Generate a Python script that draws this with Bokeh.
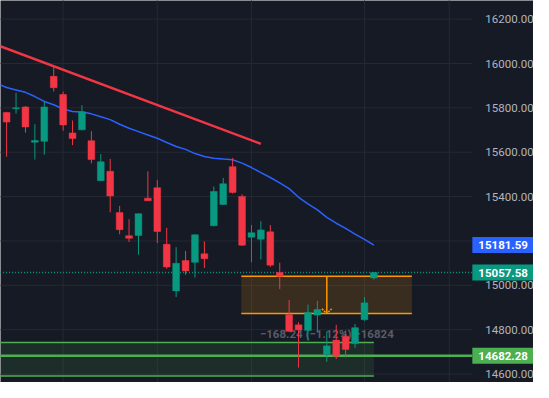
from bokeh.plotting import figure
from bokeh.models import Range1d, FixedTicker, NumeralTickFormatter, ColumnDataSource, LinearAxis
from bokeh.core.properties import value
from bokeh.embed import file_html
from bokeh.resources import INLINE

# ---- data ----
opens = [15779, 15796, 15804, 15645, 15649, 15942, 15860, 15687, 15701, 15652,
         15472, 15514, 15328, 15224, 15225, 15393, 15440, 15185, 14975, 15112,
         15104, 15142, 15269, 15364, 15535, 15401, 15217, 15208, 15241, 15058,
         14868, 14822, 14797, 14866, 14689, 14753, 14770, 14737, 14845, 15033]
highs = [15782, 15868, 15808, 15726, 15829, 15985, 15873, 15743, 15812, 15695,
         15592, 15570, 15358, 15298, 15324, 15514, 15475, 15259, 15172, 15155,
         15229, 15198, 15445, 15484, 15574, 15410, 15272, 15289, 15272, 15102,
         14934, 14834, 14913, 14930, 14790, 14822, 14796, 14826, 14947, 15060]
lows = [15580, 15774, 15688, 15567, 15589, 15874, 15697, 15632, 15699, 15550,
        15470, 15329, 15230, 15195, 15138, 15380, 15191, 15074, 14947, 15048,
        15035, 15078, 15266, 15362, 15414, 15178, 15104, 15117, 15083, 14983,
        14790, 14629, 14751, 14787, 14655, 14668, 14675, 14718, 14840, 15026]
closes = [15736, 15800, 15714, 15653, 15804, 15891, 15723, 15662, 15782, 15567,
          15557, 15403, 15251, 15212, 15323, 15381, 15243, 15083, 15099, 15065,
          15228, 15120, 15423, 15458, 15419, 15181, 15237, 15250, 15091, 15041,
          14793, 14799, 14878, 14891, 14727, 14681, 14711, 14809, 14921, 15057.58]

ma_index = list(range(-1, 40))
ma_values = [15909, 15892, 15881, 15870, 15851, 15829, 15814, 15795, 15784, 15781,
             15773, 15760, 15747, 15726, 15708, 15693, 15678, 15663, 15644, 15626,
             15613, 15594, 15581, 15573, 15569, 15566, 15551, 15531, 15508, 15486,
             15462, 15436, 15397, 15367, 15340, 15306, 15280, 15257, 15231, 15207,
             15181.59]

trend_x = [-1, 27.0]
trend_y = [16083, 15638]

range_box = dict(left=24.92, right=43.03, top=15041.0, bottom=14872.76, arrow_x=34.0)
measure_text = "\u2212168.24 (\u22121.12%) \u221216824"
measure_pos = (34.0, 14780)

zone_box = dict(left=-1, right=39.0, top=14742.7, bottom=14591.4)
zone_line = 14682.28
last_price = 15057.58
ma_last = 15181.59

tick_values = [14600, 14800, 15000, 15200, 15400, 15600, 15800, 16000, 16200]
tick_labels = ["14600.00", "14800.00", "15000.00", "15200.00", "15400.00",
               "15600.00", "15800.00", "16000.00", "16200.00"]
vgrid_at = [6, 16, 26, 38, 47]

tag_prices = [ma_last, last_price, zone_line]
tag_texts = ["15181.59", "15057.58", "14682.28"]
tag_colors = ["#2962ff", "#089981", "#4caf50"]

# ---- styling ----
BG = "#161a25"
GRID = "#252934"
UP = "#089981"
DOWN = "#f23645"
W, H = 533, 382
X0 = -0.65
BAR_PX = 9.7 * W / 549.0
XE = X0 + 486 * (W / 549.0) / BAR_PX      # right edge of the chart pane (price scale starts here)
XMAX = X0 + W / BAR_PX

p = figure(width=W, height=H, output_backend="svg", toolbar_location=None,
           x_range=Range1d(X0, XMAX), y_range=Range1d(14562, 16284),
           x_axis_location=None, y_axis_location=None,
           min_border_left=0, min_border_top=0, min_border_bottom=0, min_border_right=0,
           background_fill_color=BG, border_fill_color=BG, outline_line_color=None)
p.grid.grid_line_color = None

# price scale drawn at the pane's right edge
ax = LinearAxis(fixed_location=XE)
ax.ticker = FixedTicker(ticks=tick_values)
ax.formatter = NumeralTickFormatter(format="0.00")
ax.major_label_overrides = {v: t for v, t in zip(tick_values, tick_labels)}
ax.axis_line_color = None
ax.major_tick_line_color = None
ax.minor_tick_line_color = None
ax.major_label_text_color = "#b2b5be"
ax.major_label_text_font = "Roboto"
ax.major_label_text_font_size = "11.5px"
ax.major_label_standoff = 7
p.add_layout(ax, "right")

# grid limited to the chart pane
p.segment(x0=[X0 - 1] * len(tick_values), x1=[XE] * len(tick_values), y0=tick_values, y1=tick_values,
          line_color=GRID, line_width=1, level="underlay")
p.segment(x0=vgrid_at, x1=vgrid_at, y0=[14000] * len(vgrid_at), y1=[17000] * len(vgrid_at),
          line_color=GRID, line_width=1, level="underlay")

# green support zone
p.quad(left=[zone_box["left"]], right=[zone_box["right"]], top=[zone_box["top"]], bottom=[zone_box["bottom"]],
       fill_color="#4caf50", fill_alpha=0.13, line_color=None)
p.segment(x0=[zone_box["left"]] * 2, x1=[zone_box["right"]] * 2,
          y0=[zone_box["top"], zone_box["bottom"]], y1=[zone_box["top"], zone_box["bottom"]],
          line_color="#4caf50", line_width=1.5)
p.segment(x0=[X0 - 1], x1=[XE], y0=[zone_line], y1=[zone_line], line_color="#4caf50", line_width=2.5)

# orange measure box
rb = range_box
p.quad(left=[rb["left"]], right=[rb["right"]], top=[rb["top"]], bottom=[rb["bottom"]],
       fill_color="#ff9800", fill_alpha=0.15, line_color=None)
p.segment(x0=[rb["left"]] * 2, x1=[rb["right"]] * 2, y0=[rb["top"], rb["bottom"]], y1=[rb["top"], rb["bottom"]],
          line_color="#ff9800", line_width=1.5)
p.segment(x0=[rb["arrow_x"]], x1=[rb["arrow_x"]], y0=[rb["top"]], y1=[rb["bottom"]],
          line_color="#ff9800", line_width=1.5)
p.line(x=[rb["arrow_x"] - 0.52, rb["arrow_x"], rb["arrow_x"] + 0.52],
       y=[rb["bottom"] + 22, rb["bottom"], rb["bottom"] + 22],
       line_color="#ff9800", line_width=1.5, line_dash="2 1")

p.text(x=[measure_pos[0]], y=[measure_pos[1]], text=[measure_text],
       text_font=value("Roboto"), text_font_size="11.5px", text_font_style="bold",
       text_color="#787b86", text_alpha=0.7, text_align="center", text_baseline="middle")

# last price dotted line
p.segment(x0=[X0 - 1], x1=[XE], y0=[last_price], y1=[last_price], line_color=UP, line_width=1.5,
          line_dash="1 2")

# moving average & trendline
p.line(x=ma_index, y=ma_values, line_color="#2962ff", line_width=1.5)
p.line(x=trend_x, y=trend_y, line_color=DOWN, line_width=2.5)

# candles
idx = list(range(len(opens)))
up = dict(x=[], top=[], bottom=[], high=[], low=[])
dn = dict(x=[], top=[], bottom=[], high=[], low=[])
for i, o, h, l, c in zip(idx, opens, highs, lows, closes):
    d = up if c >= o else dn
    d["x"].append(i)
    d["top"].append(max(o, c))
    d["bottom"].append(min(o, c))
    d["high"].append(h)
    d["low"].append(l)
for d, col in ((up, UP), (dn, DOWN)):
    src = ColumnDataSource(d)
    p.segment(x0="x", x1="x", y0="high", y1="low", source=src, line_color=col, line_width=1)
    p.vbar(x="x", width=0.72, top="top", bottom="bottom", source=src, fill_color=col, line_color=col, line_width=0.5)

# price tags on the price scale
tag_src = ColumnDataSource(dict(y=tag_prices, text=tag_texts, color=tag_colors,
                                xl=[XE] * 3, xr=[XMAX] * 3))
tag_box = p.rect(x=(XE + XMAX) / 2, y="y", width=XMAX - XE, height=16, height_units="screen",
                 fill_color="color", line_color=None, source=tag_src)
tag_txt = p.text(x="xl", y="y", text="text", x_offset=6, text_color="white", text_font=value("Roboto"),
                 text_font_style="bold", text_font_size="11.5px", text_baseline="middle",
                 text_align="left", source=tag_src)
tag_box.level = "overlay"
tag_txt.level = "overlay"

open("out.html", "w").write(file_html(p, INLINE))
